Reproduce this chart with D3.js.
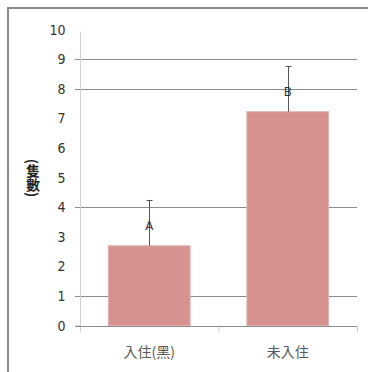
<!DOCTYPE html>
<html>
<head>
<meta charset="utf-8">
<script src="https://cdn.jsdelivr.net/npm/d3@7"></script>
<style>
  html, body { margin: 0; padding: 0; background: #fff; }
  svg { display: block; }
</style>
</head>
<body>
<div id="chart"></div>
<script>
// Data
const categories = ["入住(黑)", "未入住"];
const means = [2.7, 7.23];
const errors = [1.55, 1.54];
const letters = ["A", "B"];
const yTicks = [0, 1, 2, 3, 4, 5, 6, 7, 8, 9, 10];
const gridValues = [1, 4, 8, 9];
const yTitle = "(隻數)";

const W = 368, H = 372;
const svg = d3.select("#chart").append("svg")
  .attr("width", W).attr("height", H);

// Outer frame
svg.append("rect")
  .attr("x", 8).attr("y", 8)
  .attr("width", W + 10).attr("height", H + 10)
  .attr("fill", "#fff")
  .attr("stroke", "#8a8a8a")
  .attr("stroke-width", 2);

const plot = { left: 80, right: 357, top: 29.7, bottom: 325.7 };

const x = d3.scaleBand()
  .domain(categories)
  .range([plot.left, plot.right])
  .paddingInner(0)
  .paddingOuter(0);

const y = d3.scaleLinear()
  .domain([0, 10])
  .range([plot.bottom, plot.top]);

const barW = x.bandwidth() * 0.59;

// Gridlines
svg.append("g")
  .selectAll("line")
  .data(gridValues)
  .join("line")
  .attr("x1", plot.left - 5)
  .attr("x2", plot.right)
  .attr("y1", d => Math.round(y(d)) + 0.5)
  .attr("y2", d => Math.round(y(d)) + 0.5)
  .attr("stroke", "#8c8c8c")
  .attr("stroke-width", 1);

// Y axis
const yAxis = svg.append("g")
  .attr("transform", `translate(${plot.left + 0.5},0)`)
  .call(d3.axisLeft(y).tickValues(yTicks).tickSize(5).tickPadding(10));
yAxis.select(".domain").attr("stroke", "#d0d0d0").attr("d", `M0,${plot.top + 2}V${plot.bottom + 6}`);
yAxis.selectAll(".tick line").attr("stroke", "#8c8c8c")
  .attr("opacity", d => (d === 0 ? 1 : 0));
yAxis.selectAll(".tick text")
  .attr("fill", "#333")
  .style("font-family", "'Liberation Sans Narrow', 'DejaVu Sans Condensed', Arial, sans-serif")
  .style("font-size", "14px");

// Bars
svg.append("g")
  .selectAll("rect")
  .data(categories)
  .join("rect")
  .attr("x", (d) => x(d) + (x.bandwidth() - barW) / 2)
  .attr("y", (d, i) => y(means[i]))
  .attr("width", barW)
  .attr("height", (d, i) => y(0) - y(means[i]))
  .attr("fill", "#d69291")
  .attr("stroke", "#e4b0b0")
  .attr("stroke-width", 1);

// X axis baseline and category separators
svg.append("line")
  .attr("x1", plot.left - 5).attr("x2", plot.right)
  .attr("y1", Math.round(y(0)) + 0.5).attr("y2", Math.round(y(0)) + 0.5)
  .attr("stroke", "#8c8c8c");
svg.append("g")
  .selectAll("line")
  .data([categories[1], null])
  .join("line")
  .attr("x1", d => (d ? x(d) : plot.right) + 0.5)
  .attr("x2", d => (d ? x(d) : plot.right) + 0.5)
  .attr("y1", Math.round(y(0)) + 0.5)
  .attr("y2", Math.round(y(0)) + 6)
  .attr("stroke", "#c8c8c8");

// Error bars (upper only)
const eb = svg.append("g").attr("stroke", "#555").attr("stroke-width", 1);
categories.forEach((c, i) => {
  const cx = Math.round(x(c) + x.bandwidth() / 2) + 0.5;
  eb.append("line")
    .attr("x1", cx).attr("x2", cx)
    .attr("y1", y(means[i])).attr("y2", y(means[i] + errors[i]));
  eb.append("line")
    .attr("x1", cx - 3).attr("x2", cx + 3)
    .attr("y1", Math.round(y(means[i] + errors[i])) + 0.5)
    .attr("y2", Math.round(y(means[i] + errors[i])) + 0.5);
});

// Significance letters
svg.append("g")
  .selectAll("text")
  .data(categories)
  .join("text")
  .attr("x", d => x(d) + x.bandwidth() / 2)
  .attr("y", (d, i) => y(means[i] + errors[i] * 0.42))
  .attr("text-anchor", "middle")
  .attr("dominant-baseline", "middle")
  .attr("fill", "#333")
  .style("font-family", "'Liberation Sans Narrow', 'DejaVu Sans Condensed', Arial, sans-serif")
  .style("font-size", "13px")
  .text((d, i) => letters[i]);

// Category labels
svg.append("g")
  .selectAll("text")
  .data(categories)
  .join("text")
  .attr("x", d => x(d) + x.bandwidth() / 2)
  .attr("y", 353)
  .attr("text-anchor", "middle")
  .attr("dominant-baseline", "middle")
  .attr("fill", "#595959")
  .style("font-family", "'Noto Sans CJK TC', sans-serif")
  .style("font-size", "14px")
  .text(d => d);

// Y title, written vertically
svg.append("text")
  .attr("x", 33)
  .attr("y", 178)
  .attr("text-anchor", "middle")
  .attr("dominant-baseline", "central")
  .attr("fill", "#222")
  .style("writing-mode", "vertical-rl")
  .style("font-family", "'Noto Sans CJK TC', sans-serif")
  .style("font-weight", "bold")
  .style("font-size", "14px")
  .text(yTitle);
</script>
</body>
</html>
